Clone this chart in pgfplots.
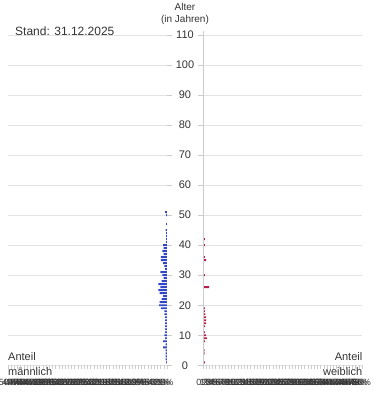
\documentclass[border=0pt]{standalone}
\usepackage{pgfplots}
\pgfplotsset{compat=1.18}
\usepackage{fontspec}
\setmainfont{Liberation Sans}

\definecolor{male}{HTML}{3347C4}
\definecolor{female}{HTML}{B51F4B}
\definecolor{gridc}{HTML}{E3E3E3}
\definecolor{axisc}{HTML}{CCCCCC}
\definecolor{txt}{HTML}{333333}

\pgfplotsset{
  pyramid/.style={
    scale only axis,
    width=159pt, height=334.6pt,
    ymin=0, ymax=111.4,
    ytick={0,10,...,110},
    ymajorgrids,
    grid style={gridc, line width=0.6pt},
    axis line style={draw=none},
    tick align=outside,
    major tick length=5.5pt,
    tick style={axisc, line width=0.6pt},
    xtick style={/pgfplots/major tick length=3.5pt},
    xtick pos=bottom,
    xticklabel style={font=\fontsize{9}{9}\selectfont, text=txt, yshift=-5pt},
    /pgf/number format/assume math mode=true,
  },
}

\begin{document}
\begin{tikzpicture}[x=1pt, y=1pt]
\path[use as bounding box] (0,0) rectangle (375,416);

% male shares (per cent of population) by age
\begin{axis}[pyramid,
  at={(8pt,50.7pt)}, anchor=south west,
  xmin=-50, xmax=0,
  xtick={-50,-49,...,0},
  xticklabel={\pgfmathparse{abs(\tick)}\pgfmathprintnumber{\pgfmathresult}\%},
  ytick pos=right,
  yticklabel pos=right,
  yticklabel style={anchor=center, xshift=12.5pt,
    font=\fontsize{11}{11}\selectfont, text=txt},
]
\addplot[xbar, bar width=0.65, fill=male, draw=none] coordinates {
 (-0.3,1) (-0.4,2) (-0.4,3) (-0.4,4) (-0.4,5) (-1.25,6) (-0.4,7)
 (-1.25,8) (-0.6,9) (-0.85,10) (-0.6,11) (-0.6,12) (-0.6,13) (-0.6,14)
 (-0.6,15) (-0.6,16) (-0.85,17) (-0.85,18) (-1.9,19) (-2.5,20) (-2.3,21)
 (-1.7,22) (-1.25,23) (-2.3,24) (-2.7,25) (-2.1,26) (-2.7,27) (-1.7,28)
 (-1.05,29) (-1.45,30) (-2.1,31) (-0.6,32) (-0.85,33) (-1.25,34) (-1.9,35)
 (-1.9,36) (-1.05,37) (-1.45,38) (-1.05,39) (-1.25,40) (-0.3,41) (-0.3,42)
 (-0.3,43) (-0.3,44) (-0.4,45) (-0.3,47) (-0.3,50) (-0.6,51)
};
\draw[axisc, line width=0.6pt] (axis cs:0,0) -- (axis cs:0,111.4);
\end{axis}

% female shares (per cent of population) by age
\begin{axis}[pyramid,
  at={(203pt,50.7pt)}, anchor=south west,
  xmin=0, xmax=50,
  xtick={0,1,...,50},
  xticklabel={\pgfmathprintnumber{\tick}\%},
  ytick pos=left,
  yticklabels={},
]
\addplot[xbar, bar width=0.65, fill=female, draw=none] coordinates {
 (0.6,1) (0.3,3) (0.5,4) (0.5,5) (0.3,6) (0.3,7) (0.6,8) (1.25,9)
 (0.95,10) (0.6,11) (0.6,13) (0.95,14) (0.95,15) (0.95,16) (0.75,17)
 (0.6,18) (0.6,19) (0.3,20) (0.3,21) (0.3,22) (0.3,25) (1.9,26)
 (0.3,27) (0.3,28) (0.6,30) (0.3,34) (0.95,35) (0.6,36) (0.3,38)
 (0.3,39) (0.6,40) (0.6,42) (0.3,43) (0.3,47) (0.3,49)
};
\draw[axisc, line width=0.6pt] (axis cs:0,0) -- (axis cs:0,111.4);
\end{axis}

% headings and side captions
\node[anchor=base, font=\fontsize{10}{10}\selectfont, text=txt] at (185,405.5) {Alter};
\node[anchor=base, font=\fontsize{10}{10}\selectfont, text=txt] at (185,393.5) {(in Jahren)};
\node[anchor=base west, font=\fontsize{12}{12}\selectfont, text=txt, inner sep=0pt] at (15,380.7) {Stand: 31.12.2025};
\node[anchor=base west, font=\fontsize{11}{11}\selectfont, text=txt, inner sep=0pt] at (8,55.3) {Anteil};
\node[anchor=base west, font=\fontsize{11}{11}\selectfont, text=txt, inner sep=0pt] at (8,40) {männlich};
\node[anchor=base east, font=\fontsize{11}{11}\selectfont, text=txt, inner sep=0pt] at (362.5,55.3) {Anteil};
\node[anchor=base east, font=\fontsize{11}{11}\selectfont, text=txt, inner sep=0pt] at (362.5,40) {weiblich};
\end{tikzpicture}
\end{document}
